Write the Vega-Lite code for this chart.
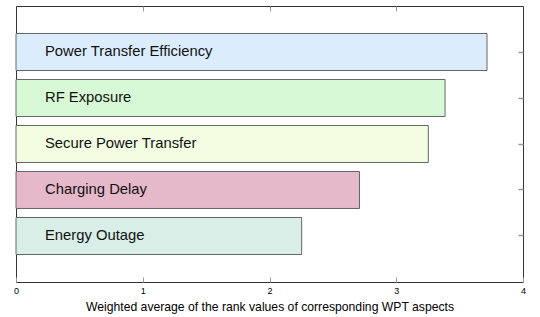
{
  "$schema": "https://vega.github.io/schema/vega-lite/v6.json",
  "width": 507,
  "height": 276,
  "padding": {"left": 16, "top": 6, "right": 17, "bottom": 35},
  "autosize": {"type": "none"},
  "background": "white",
  "config": {
    "view": {"stroke": "#333", "strokeWidth": 1},
    "font": "Liberation Sans"
  },
  "data": {
    "values": [
      {"aspect": "Power Transfer Efficiency", "value": 3.716, "color": "#dbedfd"},
      {"aspect": "RF Exposure", "value": 3.385, "color": "#d8f9d5"},
      {"aspect": "Secure Power Transfer", "value": 3.253, "color": "#f3fde2"},
      {"aspect": "Charging Delay", "value": 2.71, "color": "#e5b9c9"},
      {"aspect": "Energy Outage", "value": 2.254, "color": "#d8eee6"}
    ]
  },
  "encoding": {
    "y": {
      "field": "aspect",
      "type": "nominal",
      "sort": null,
      "scale": {"paddingInner": 0.196, "paddingOuter": 0.598},
      "axis": {
        "orient": "right",
        "labels": false,
        "title": null,
        "domain": false,
        "ticks": true,
        "tickSize": -5,
        "tickColor": "#999",
        "tickWidth": 1.5
      }
    }
  },
  "layer": [
    {
      "mark": {"type": "bar", "stroke": "#666", "strokeWidth": 1},
      "encoding": {
        "x": {
          "field": "value",
          "type": "quantitative",
          "scale": {"domain": [0, 4], "nice": false, "zero": true},
          "axis": {
            "orient": "bottom",
            "values": [0, 1, 2, 3, 4],
            "format": "d",
            "tickSize": -5,
            "tickColor": "#999",
            "domain": false,
            "grid": false,
            "labelFontSize": 9,
            "labelColor": "#000",
            "labelPadding": 9,
            "labelFlush": false,
            "title": "Weighted average of the rank values of corresponding WPT aspects",
            "titleFontSize": 12.2,
            "titleFontWeight": "normal",
            "titleColor": "#000",
            "titlePadding": 5
          }
        },
        "fill": {"field": "color", "type": "nominal", "scale": null, "legend": null}
      }
    },
    {
      "mark": {"type": "text", "align": "left", "baseline": "middle", "dx": 29, "fontSize": 14.8, "color": "#111"},
      "encoding": {
        "x": {"datum": 0, "type": "quantitative", "axis": {
          "orient": "top",
          "values": [1, 2, 3],
          "labels": false,
          "tickSize": -5,
          "tickColor": "#999",
          "domain": false,
          "grid": false,
          "title": null
        }},
        "text": {"field": "aspect"}
      }
    }
  ],
  "resolve": {"axis": {"x": "independent"}}
}
